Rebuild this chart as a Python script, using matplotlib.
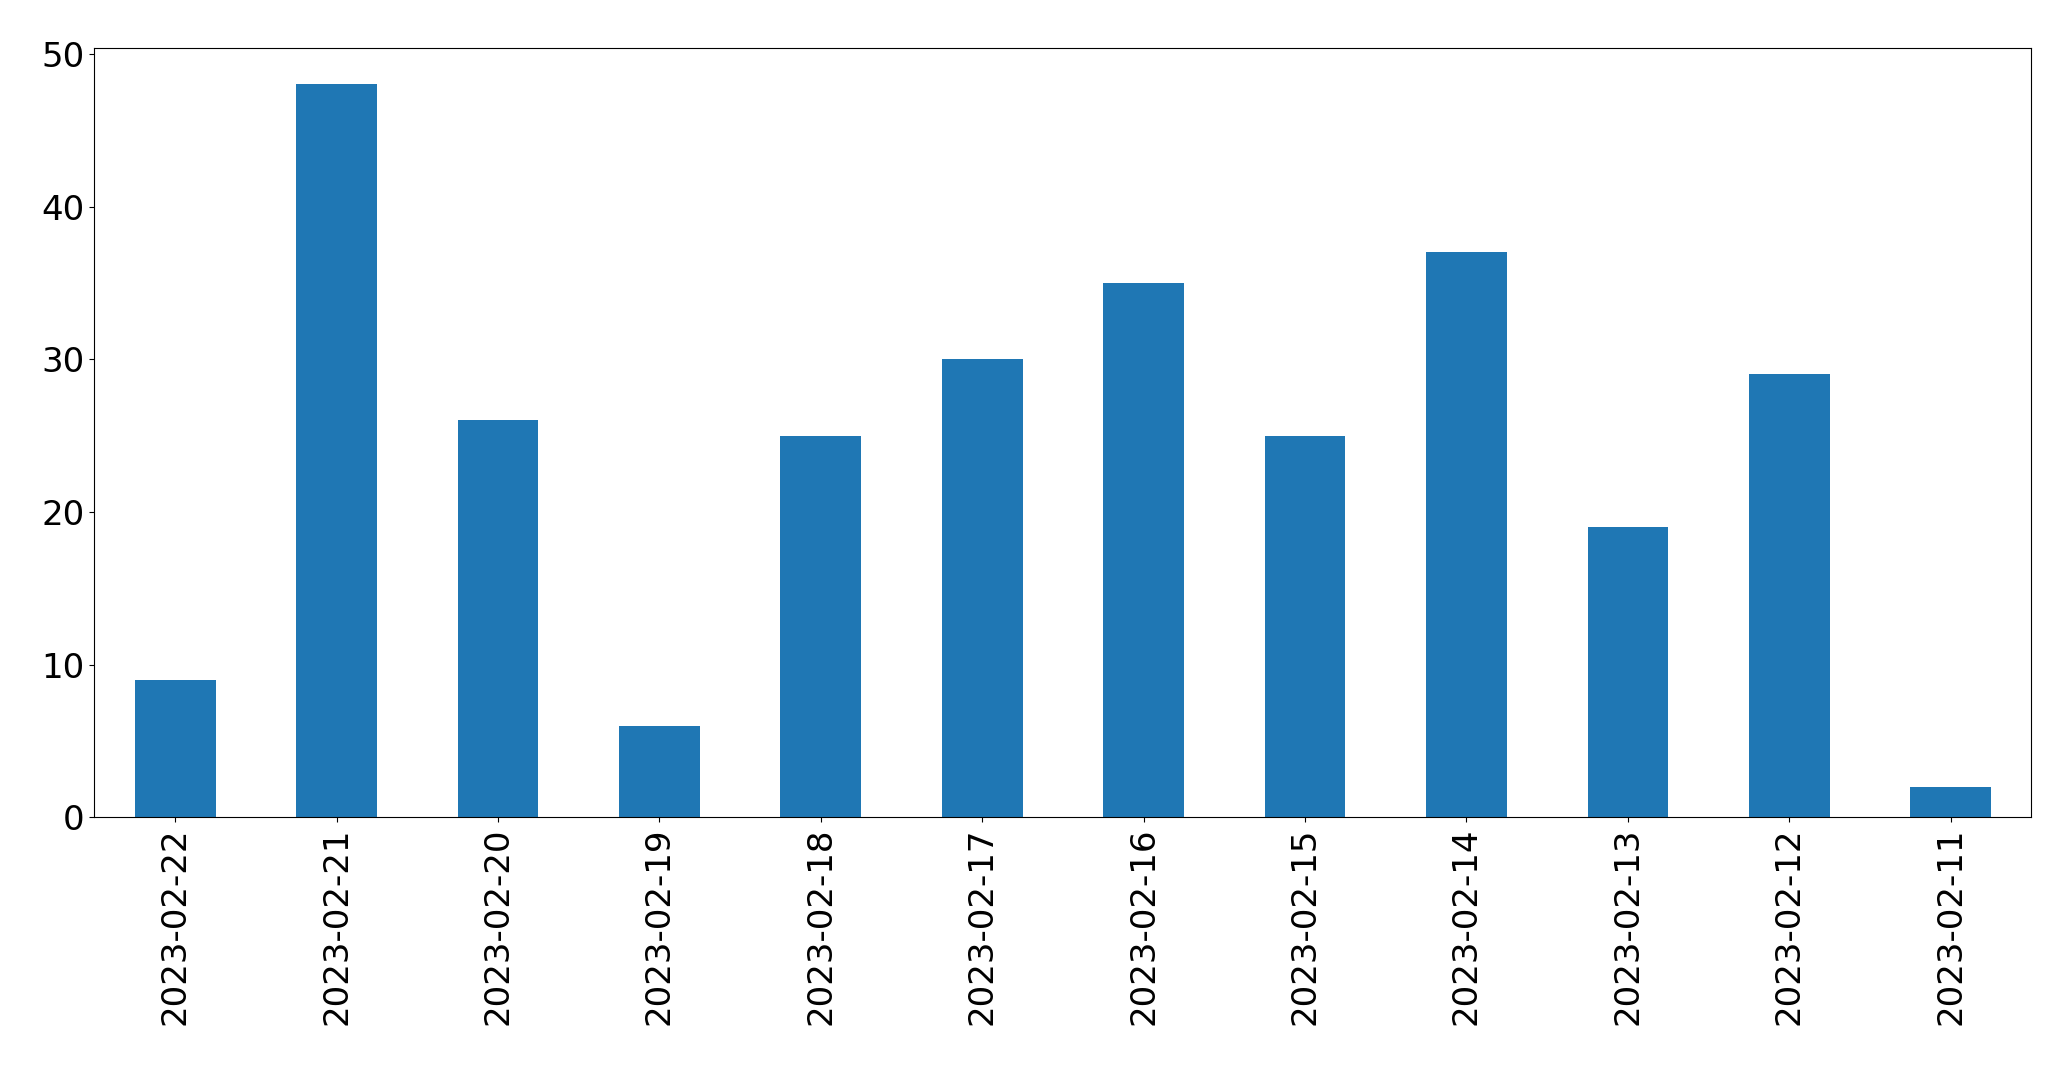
import matplotlib
matplotlib.use("Agg")
import matplotlib.pyplot as plt

dates = ["2023-02-22", "2023-02-21", "2023-02-20", "2023-02-19", "2023-02-18",
         "2023-02-17", "2023-02-16", "2023-02-15", "2023-02-14", "2023-02-13",
         "2023-02-12", "2023-02-11"]
counts = [9, 48, 26, 6, 25, 30, 35, 25, 37, 19, 29, 2]

fig = plt.figure(figsize=(20.71, 10.69), dpi=100)
ax = fig.add_axes([0.0456, 0.2354, 0.9353, 0.7200])
x = list(range(len(dates)))
ax.bar(x, counts, width=0.5, color="#1f77b4")
ax.set_xlim(-0.5, len(dates) - 0.5)
ax.set_xticks(x)
ax.set_xticklabels(dates, rotation=90, fontsize=24.5)
ax.tick_params(axis="y", labelsize=24.5)
ax.set_yticks([0, 10, 20, 30, 40, 50])
fig.savefig("out.png", dpi=100)
